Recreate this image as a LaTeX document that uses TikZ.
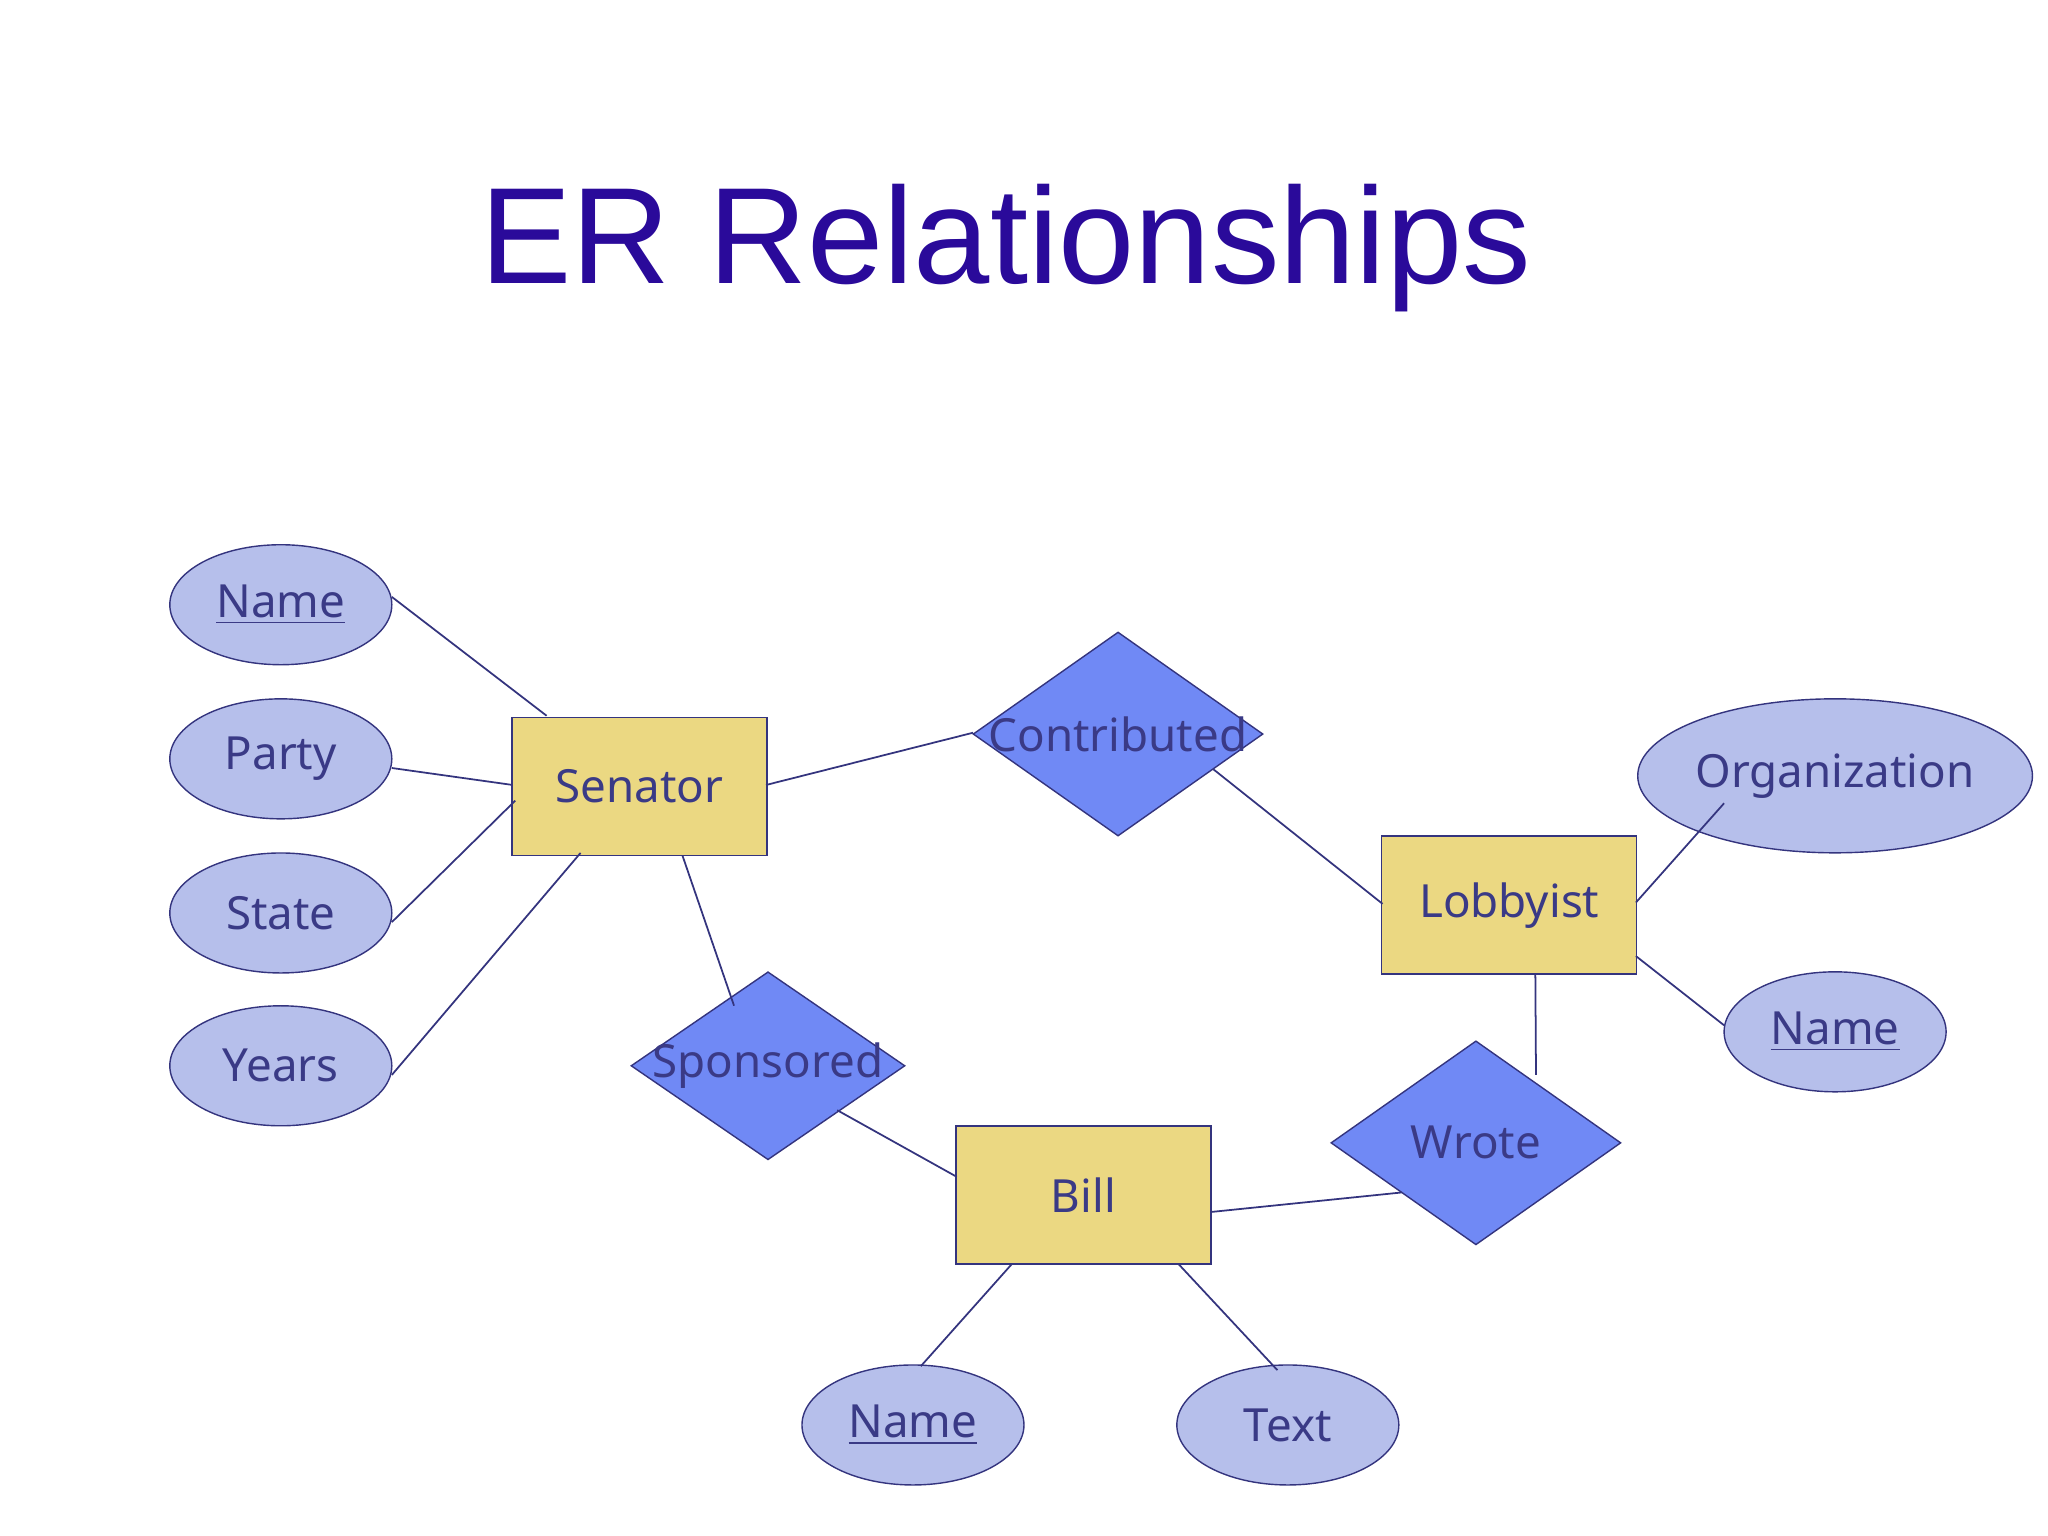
\documentclass[tikz,border=0pt]{standalone}
\usepackage{fontspec}
\setmainfont{Noto Sans}
\newfontfamily\titlefont{Liberation Sans}
\usetikzlibrary{shapes.geometric}
\definecolor{tcol}{HTML}{3A3A86}
\definecolor{ttl}{HTML}{2A0A9A}
\definecolor{ell}{HTML}{B6BFEB}
\definecolor{ent}{HTML}{EBD882}
\definecolor{rel}{HTML}{7089F5}
\definecolor{edge}{HTML}{34347E}
\begin{document}
\begin{tikzpicture}[x=0.01306cm,y=-0.01306cm,
  every node/.style={text=tcol,font=\fontsize{13}{15}\selectfont},
  attr/.style={ellipse,draw=edge,fill=ell,minimum width=2.22cm,minimum height=1.2cm,inner sep=0},
  entity/.style={rectangle,draw=edge,fill=ent,minimum width=2.55cm,minimum height=1.38cm},
  relsh/.style={diamond,draw=edge,fill=rel,inner sep=0},
  conn/.style={draw=edge,line width=0.5pt}]
\useasboundingbox (0,0) rectangle (1568,1176);
\node[text=ttl,font=\titlefont\fontsize{39}{44}\selectfont] (title) at (770,190) {ER Relationships};
\node[attr] (sname) at (215,463) {\underline{Name}};
\node[attr] (party) at (215,581) {Party};
\node[attr] (state) at (215,699) {State};
\node[attr] (years) at (215,816) {Years};
\node[attr,minimum width=2.53cm,minimum height=1.54cm] (org) at (1405,594) {Organization};
\node[attr] (lname) at (1405,790) {\underline{Name}};
\node[attr] (bname) at (699,1091) {\underline{Name}};
\node[attr] (text) at (986,1091) {Text};
\node[entity] (sen) at (489.5,602) {Senator};
\node[entity] (lob) at (1155.5,693) {Lobbyist};
\node[entity] (bill) at (829.5,915) {Bill};
\node[relsh,minimum width=2.9cm,minimum height=2.04cm,label=center:Contributed] (contr) at (856,562) {};
\node[relsh,minimum width=2.74cm,minimum height=1.88cm,label=center:Sponsored] (spon) at (588,816) {};
\node[relsh,minimum width=2.9cm,minimum height=2.04cm,label=center:Wrote] (wrote) at (1130,875) {};
\begin{scope}[conn]
\draw ([shift={(85,-6)}]sname.center) -- ([shift={(-71,-54)}]sen.center);
\draw ([shift={(85,7)}]party.center) -- ([shift={(-97,-1)}]sen.center);
\draw ([shift={(85,7)}]state.center) -- ([shift={(-95,11)}]sen.center);
\draw ([shift={(85,7)}]years.center) -- ([shift={(-45,51)}]sen.center);
\draw ([shift={(97,-1)}]sen.center) -- ([shift={(-111,-1)}]contr.center);
\draw ([shift={(73,27)}]contr.center) -- ([shift={(-97,-1)}]lob.center);
\draw ([shift={(33,53)}]sen.center) -- ([shift={(-26,-46)}]spon.center);
\draw ([shift={(53,34)}]spon.center) -- ([shift={(-97,-14)}]bill.center);
\draw ([shift={(97,13)}]bill.center) -- ([shift={(-57,38)}]wrote.center);
\draw ([shift={(20,53)}]lob.center) -- ([shift={(46,-52)}]wrote.center);
\draw ([shift={(97,-2)}]lob.center) -- ([shift={(-85,21)}]org.center);
\draw ([shift={(97,39)}]lob.center) -- ([shift={(-85,-5)}]lname.center);
\draw ([shift={(-55,53)}]bill.center) -- ([shift={(6,-45)}]bname.center);
\draw ([shift={(73,53)}]bill.center) -- ([shift={(-8,-42)}]text.center);
\end{scope}
\end{tikzpicture}
\end{document}
